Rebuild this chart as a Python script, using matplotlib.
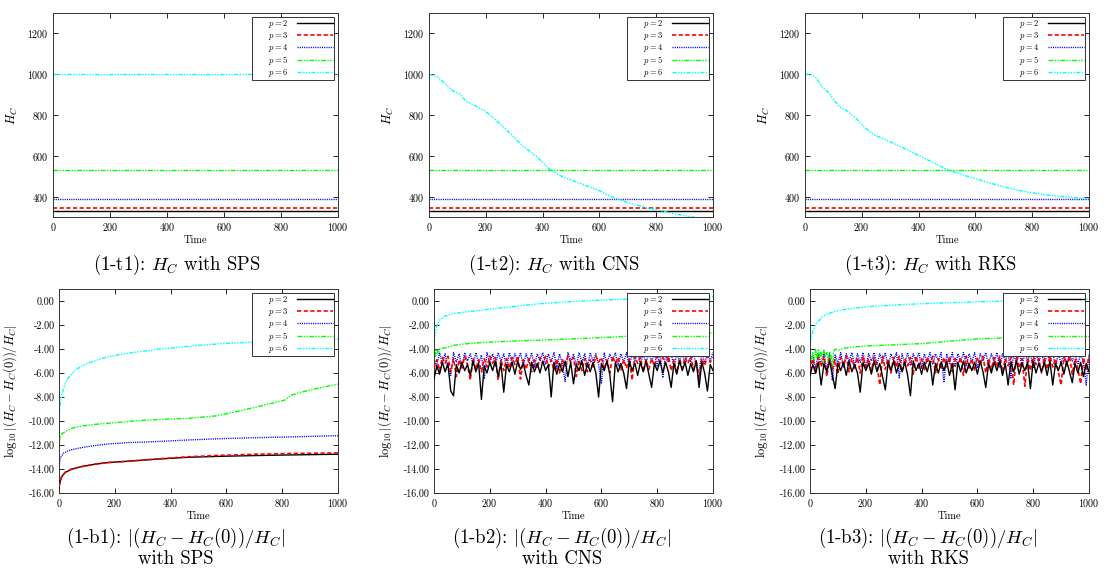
import numpy as np
import matplotlib
matplotlib.use("Agg")
import matplotlib.pyplot as plt
from matplotlib.ticker import FormatStrFormatter

plt.rcParams["font.family"] = "cmr10"
plt.rcParams["mathtext.fontset"] = "cm"
plt.rcParams["axes.unicode_minus"] = False
plt.rcParams["axes.formatter.use_mathtext"] = True

# ---------------- data ----------------
p_labels = ["$p = 2$", "$p = 3$", "$p = 4$", "$p = 5$", "$p = 6$"]
t_end = [0, 1000]

# H_C, constant levels for p = 2..5 (all schemes) and p = 6 with SPS
hc_p2 = 327
hc_p3 = 343
hc_p4 = 387
hc_p5 = 531
hc_p6_sps = 1000

# H_C for p = 6 with CNS and RKS
t_hc6_cns = [0, 32, 73, 90, 108, 131, 167, 196, 237, 284, 331, 378, 425, 472, 519,
             589, 636, 707, 765, 824, 894, 953, 1000]
hc6_cns = [1000, 985, 932, 913, 903, 867, 842, 821, 774, 712, 647, 598, 533, 496, 471,
           436, 403, 367, 346, 328, 308, 294, 285]
t_hc6_rks = [0, 23, 41, 59, 82, 106, 124, 147, 176, 205, 241, 276, 334, 393, 452,
             499, 569, 640, 710, 780, 851, 921, 1000]
hc6_rks = [1000, 997, 980, 940, 911, 867, 837, 821, 790, 745, 704, 683, 647, 607, 566,
           533, 501, 471, 444, 423, 408, 398, 390]

# log10 relative error, SPS
t_e6_sps = [0, 4, 10, 22, 33, 57, 81, 105, 141, 177, 225, 284, 344, 404, 464, 523,
            583, 643, 703, 762, 822, 882, 942, 1000]
e6_sps = [-9.92, -8.67, -7.8, -6.9, -6.4, -5.8, -5.42, -5.18, -4.88, -4.65, -4.43,
          -4.24, -4.05, -3.91, -3.77, -3.66, -3.55, -3.49, -3.41, -3.35, -3.32, -3.27,
          -3.24, -3.19]
t_e5_sps = [0, 4, 10, 22, 45, 81, 129, 201, 284, 368, 464, 560, 619, 703, 762, 810,
            834, 882, 942, 1000]
e5_sps = [-12.13, -11.44, -11.08, -10.89, -10.61, -10.42, -10.28, -10.14, -9.97, -9.86,
          -9.78, -9.58, -9.31, -8.86, -8.53, -8.25, -7.84, -7.51, -7.2, -6.93]
t_e4_sps = [0, 4, 16, 33, 69, 117, 177, 249, 344, 464, 583, 703, 822, 1000]
e4_sps = [-13.93, -13.1, -12.69, -12.47, -12.27, -12.08, -11.91, -11.8, -11.72, -11.58,
          -11.47, -11.39, -11.33, -11.22]
t_e23_sps = [0, 4, 10, 22, 45, 81, 129, 177, 249, 344, 464, 583, 703, 822, 1000]
e3_sps = [-15.5, -15.0, -14.6, -14.28, -14.0, -13.8, -13.6, -13.46, -13.35, -13.17,
          -12.98, -12.86, -12.77, -12.71, -12.66]
e2_sps = [-15.6, -15.04, -14.63, -14.29, -14.02, -13.8, -13.6, -13.46, -13.35, -13.19,
          -13.02, -12.94, -12.88, -12.83, -12.77]

# log10 relative error, CNS (noisy series sampled every 10 time units)
t_noise = np.arange(0, 1001, 10)
e4_cns = [-4.8, -5.4, -4.3, -5.2, -4.4, -5.6, -6.2, -4.3, -5.1, -4.4, -5.5, -4.3, -5.0,
          -4.4, -5.3, -4.3, -5.2, -4.5, -6.5, -4.3, -5.1, -4.4, -5.4, -4.3, -5.0, -4.4,
          -5.6, -4.3, -5.2, -4.4, -5.0, -4.3, -5.4, -4.4, -5.1, -4.3, -5.5, -4.4, -5.0,
          -4.3, -5.3, -4.4, -5.1, -4.3, -5.6, -4.4, -5.2, -6.7, -4.3, -5.0, -4.4, -5.4,
          -4.3, -5.1, -4.4, -5.5, -4.3, -5.0, -4.4, -5.3, -6.9, -4.3, -5.2, -4.4, -5.0,
          -4.3, -5.4, -4.4, -5.1, -4.3, -5.5, -4.4, -5.0, -4.3, -5.3, -4.4, -5.2, -4.3,
          -5.0, -4.4, -5.4, -4.3, -6.4, -4.4, -5.1, -4.3, -5.5, -4.4, -5.0, -4.3, -5.3,
          -4.2, -5.1, -4.3, -5.4, -6.0, -4.2, -5.2, -4.3, -5.0, -4.3]
e3_cns = [-5.6, -4.9, -5.8, -4.7, -5.2, -4.6, -5.9, -4.8, -6.3, -4.9, -5.6, -4.6, -5.3,
          -6.6, -4.8, -5.7, -4.9, -5.9, -4.8, -5.5, -4.6, -5.2, -4.7, -6.6, -4.9, -5.8,
          -4.8, -5.6, -4.7, -5.3, -4.6, -6.5, -4.9, -5.7, -4.8, -5.9, -4.9, -5.6, -4.7,
          -5.2, -4.6, -5.5, -4.9, -5.8, -4.8, -6.0, -4.9, -5.4, -4.6, -5.1, -4.7, -6.3,
          -4.9, -5.8, -4.8, -5.9, -4.9, -5.5, -4.6, -5.1, -4.7, -5.7, -4.9, -6.0, -4.6,
          -5.2, -4.7, -5.8, -4.9, -5.6, -4.8, -6.6, -4.6, -5.2, -4.7, -5.9, -4.9, -5.7,
          -4.8, -5.4, -4.6, -5.1, -4.7, -5.3, -4.6, -5.8, -4.9, -6.0, -4.8, -5.6, -4.7,
          -5.2, -4.6, -5.7, -4.9, -6.5, -4.8, -5.4, -4.6, -5.1, -4.7]
e2_cns = [-6.5, -5.4, -6.1, -5.1, -5.9, -5.2, -7.5, -7.9, -5.3, -6.0, -5.1, -5.8, -5.3,
          -6.2, -5.0, -5.9, -5.2, -8.2, -5.4, -6.0, -5.1, -5.8, -5.0, -6.3, -5.2, -7.6,
          -5.3, -5.9, -5.1, -6.1, -5.0, -5.7, -5.2, -6.2, -7.0, -5.1, -5.9, -5.2, -6.0,
          -5.0, -5.8, -5.3, -8.0, -5.1, -6.1, -5.2, -5.9, -5.0, -6.3, -5.1, -6.9, -5.3,
          -5.8, -5.0, -6.2, -5.2, -5.9, -5.1, -6.0, -8.0, -5.2, -5.8, -5.0, -6.1, -8.4,
          -5.1, -5.9, -5.2, -6.0, -7.3, -5.0, -5.8, -5.2, -6.2, -5.1, -5.9, -5.0, -6.1,
          -7.2, -5.2, -5.8, -5.0, -6.0, -5.1, -5.9, -7.2, -5.2, -6.1, -5.0, -5.8, -5.1,
          -6.2, -5.2, -5.9, -5.0, -7.2, -5.1, -6.0, -7.5, -5.3, -5.8]
t_e5_cns = [0, 3, 6, 10, 15, 20, 30, 40, 70, 100, 150, 200, 300, 400, 500, 600, 700,
            800, 900, 1000]
e5_cns = [-4.9, -4.1, -4.6, -4.0, -4.4, -4.0, -3.95, -3.9, -3.7, -3.6, -3.5, -3.42,
          -3.33, -3.25, -3.15, -3.05, -2.93, -2.84, -2.75, -2.67]
t_e6_cns = [0, 2, 8, 20, 38, 68, 104, 164, 247, 367, 486, 606, 725, 845, 1000]
e6_cns = [-3.4, -3.1, -2.2, -1.6, -1.27, -1.05, -0.94, -0.78, -0.55, -0.25, -0.05,
          0.08, 0.18, 0.27, 0.35]

# log10 relative error, RKS
e4_rks = [-5.0, -4.5, -5.6, -4.4, -5.3, -4.3, -5.8, -4.4, -6.6, -4.5, -5.2, -4.3, -5.5,
          -4.4, -5.0, -4.3, -5.4, -4.4, -5.1, -4.3, -5.6, -4.4, -5.0, -4.3, -5.3, -4.4,
          -5.1, -4.3, -5.5, -4.4, -5.0, -4.3, -6.4, -4.4, -5.2, -4.3, -5.4, -4.4, -5.0,
          -4.3, -5.6, -4.4, -5.1, -4.3, -5.3, -4.4, -5.0, -4.3, -6.8, -4.4, -5.2, -4.3,
          -5.5, -4.4, -5.0, -4.3, -5.4, -4.4, -5.1, -4.3, -5.6, -4.4, -5.0, -4.3, -5.3,
          -4.4, -5.1, -4.3, -5.5, -4.4, -5.0, -4.3, -6.4, -4.4, -5.2, -4.3, -5.4, -4.4,
          -5.0, -4.3, -5.6, -4.4, -5.1, -4.3, -5.3, -4.4, -5.0, -4.3, -5.5, -4.4, -5.2,
          -4.3, -5.4, -4.4, -5.0, -4.3, -5.3, -4.4, -5.1, -7.0, -4.4]
e3_rks = [-5.8, -4.8, -6.0, -4.7, -5.5, -4.6, -6.3, -4.8, -5.7, -4.9, -6.1, -4.7, -5.4,
          -4.6, -5.9, -4.8, -5.6, -4.7, -6.0, -4.6, -5.5, -4.8, -5.8, -4.7, -5.3, -7.0,
          -4.6, -5.7, -4.8, -6.0, -4.7, -5.5, -4.6, -5.9, -4.8, -5.4, -4.7, -6.1, -4.6,
          -5.6, -4.8, -5.8, -4.7, -5.3, -4.6, -6.0, -4.8, -5.7, -4.7, -5.5, -4.6, -5.9,
          -4.8, -5.4, -4.7, -6.2, -4.6, -5.6, -4.8, -5.8, -4.7, -5.3, -4.6, -6.0, -4.8,
          -5.7, -4.7, -5.5, -4.6, -5.9, -4.8, -5.4, -4.7, -7.0, -4.6, -5.6, -4.8, -7.1,
          -4.7, -5.8, -4.6, -5.3, -4.8, -6.0, -4.7, -5.7, -4.6, -5.5, -4.8, -5.9, -7.0,
          -4.7, -5.4, -4.6, -6.1, -4.8, -5.6, -6.9, -4.7, -5.8, -4.6]
e2_rks = [-6.2, -5.3, -6.0, -5.1, -7.0, -5.2, -5.9, -5.0, -6.1, -7.3, -5.2, -5.8, -5.1,
          -6.2, -5.0, -5.9, -5.3, -6.0, -7.6, -5.1, -5.8, -5.2, -6.1, -5.0, -5.9, -5.2,
          -6.3, -7.4, -5.1, -5.8, -5.0, -6.0, -5.2, -5.9, -5.1, -6.2, -7.9, -5.0, -5.8,
          -5.2, -6.1, -5.1, -5.9, -5.0, -7.0, -5.2, -6.0, -5.1, -5.8, -5.0, -6.2, -5.2,
          -7.4, -5.1, -5.9, -5.0, -6.0, -5.2, -5.8, -5.1, -6.1, -5.0, -5.9, -7.2, -5.2,
          -6.0, -5.1, -5.8, -5.0, -6.2, -5.2, -7.0, -5.1, -5.9, -5.0, -6.1, -5.2, -5.8,
          -5.1, -7.3, -5.0, -6.0, -5.2, -5.9, -5.1, -6.2, -5.0, -7.0, -5.2, -5.8, -5.1,
          -6.1, -5.0, -5.9, -6.8, -5.2, -6.0, -5.1, -6.3, -5.2, -5.9]
t_e5_rks = [0, 5, 10, 15, 20, 25, 30, 35, 40, 45, 50, 55, 60, 65, 70, 75, 80, 85, 90,
            100, 120, 150, 200, 250, 300, 350, 400, 450, 500, 550, 600, 700, 800, 900,
            1000]
e5_rks = [-4.6, -5.2, -4.3, -5.0, -4.1, -4.8, -4.0, -4.7, -4.2, -5.3, -4.1, -4.6, -4.3,
          -5.0, -4.2, -4.5, -5.8, -4.2, -4.0, -4.1, -3.95, -3.85, -3.75, -3.7, -3.65,
          -3.6, -3.55, -3.45, -3.35, -3.25, -3.15, -3.08, -3.03, -3.0, -2.95]
t_e6_rks = [0, 2, 11, 23, 41, 59, 94, 142, 226, 346, 465, 585, 705, 824, 1000]
e6_rks = [-3.9, -3.4, -2.44, -1.88, -1.39, -1.11, -0.83, -0.64, -0.44, -0.28, -0.17,
          -0.08, 0.0, 0.06, 0.17]

# ---------------- styles ----------------
colors = ["#000000", "#ff0000", "#0000ff", "#00ff00", "#00ffff"]
dashes = [(None, None), (2.5, 1.5), (0.8, 0.8), (3.5, 1, 1, 1, 1, 1), (3, 1, 1, 1, 1, 1, 1, 1)]
widths = [1.0, 1.2, 1.0, 1.0, 1.0]


def draw(ax, t, y, k, z=2):
    line, = ax.plot(t, y, color=colors[k], lw=widths[k], zorder=z,
                    label="     " + p_labels[k])
    if k > 0:
        line.set_dashes(dashes[k])
    return line


W, H = 1107, 571
fig = plt.figure(figsize=(W / 100, H / 100), dpi=100)


def make_ax(l, t, r, b):
    return fig.add_axes([l / W, 1 - b / H, (r - l) / W, (b - t) / H])


def style(ax, ylab, bottom_row, ylabx):
    ax.set_xlim(0, 1000)
    ax.set_xticks([0, 200, 400, 600, 800, 1000])
    ax.tick_params(direction="in", top=True, right=True, labelsize=7.2, length=3.5,
                   width=0.6, pad=3)
    for s in ax.spines.values():
        s.set_linewidth(0.7)
        s.set_color("#333333")
    ax.set_xlabel("Time", fontsize=7.5, labelpad=2)
    ax.set_ylabel(ylab, fontsize=9)
    ax.yaxis.set_label_coords(ylabx, 0.5)
    if bottom_row:
        ax.set_ylim(-16, 1)
        ax.set_yticks(np.arange(-16, 1, 2))
        ax.yaxis.set_major_formatter(FormatStrFormatter("%.2f"))
    else:
        ax.set_ylim(300, 1300)
        ax.set_yticks([400, 600, 800, 1000, 1200])
    leg = ax.legend(loc="upper right", fontsize=6.2, markerfirst=False, fancybox=False,
                    framealpha=1, edgecolor="#333333", borderaxespad=0.45, borderpad=0.15,
                    labelspacing=0.0, handlelength=4.2, handletextpad=1.0)
    leg.get_frame().set_linewidth(0.7)


top_boxes = [(53, 13, 338, 217), (429, 13, 713, 217), (805, 13, 1089, 217)]
bot_boxes = [(59, 289, 338, 493), (434, 289, 713, 493), (810, 289, 1089, 493)]

hc6_series = [(t_end, [hc_p6_sps, hc_p6_sps]), (t_hc6_cns, hc6_cns), (t_hc6_rks, hc6_rks)]
for i, box in enumerate(top_boxes):
    ax = make_ax(*box)
    for k, v in enumerate([hc_p2, hc_p3, hc_p4, hc_p5]):
        draw(ax, t_end, [v, v], k)
    draw(ax, hc6_series[i][0], hc6_series[i][1], 4)
    style(ax, "$H_C$", False, -0.115)

# bottom row
ax = make_ax(*bot_boxes[0])
draw(ax, t_e23_sps, e2_sps, 0, 3)
draw(ax, t_e23_sps, e3_sps, 1, 4)
draw(ax, t_e4_sps, e4_sps, 2)
draw(ax, t_e5_sps, e5_sps, 3)
draw(ax, t_e6_sps, e6_sps, 4)
style(ax, r"$\log_{10}|(H_C - H_C(0))/H_C|$", True, -0.145)

for box, e2, e3, e4, t5, e5, t6, e6 in [
        (bot_boxes[1], e2_cns, e3_cns, e4_cns, t_e5_cns, e5_cns, t_e6_cns, e6_cns),
        (bot_boxes[2], e2_rks, e3_rks, e4_rks, t_e5_rks, e5_rks, t_e6_rks, e6_rks)]:
    ax = make_ax(*box)
    draw(ax, t_noise, e2, 0, 4)
    draw(ax, t_noise, e3, 1, 3)
    draw(ax, t_noise, e4, 2, 2)
    draw(ax, t5, e5, 3, 2)
    draw(ax, t6, e6, 4, 2)
    style(ax, r"$\log_{10}|(H_C - H_C(0))/H_C|$", True, -0.145)

# captions
cap = 13.5
for i, (x, name) in enumerate([(177, "SPS"), (554, "CNS"), (930, "RKS")]):
    fig.text(x / W, 1 - 265 / H, "(1-t%d): $H_C$ with %s" % (i + 1, name),
             ha="center", va="center", fontsize=cap)
for i, (x, name) in enumerate([(176, "SPS"), (562, "CNS"), (928, "RKS")]):
    fig.text(x / W, 1 - 547 / H,
             "(1-b%d): $|(H_C - H_C(0))/H_C|$\nwith %s" % (i + 1, name),
             ha="center", va="center", multialignment="center", fontsize=cap,
             linespacing=1.0)

fig.savefig("out.png", dpi=100)
